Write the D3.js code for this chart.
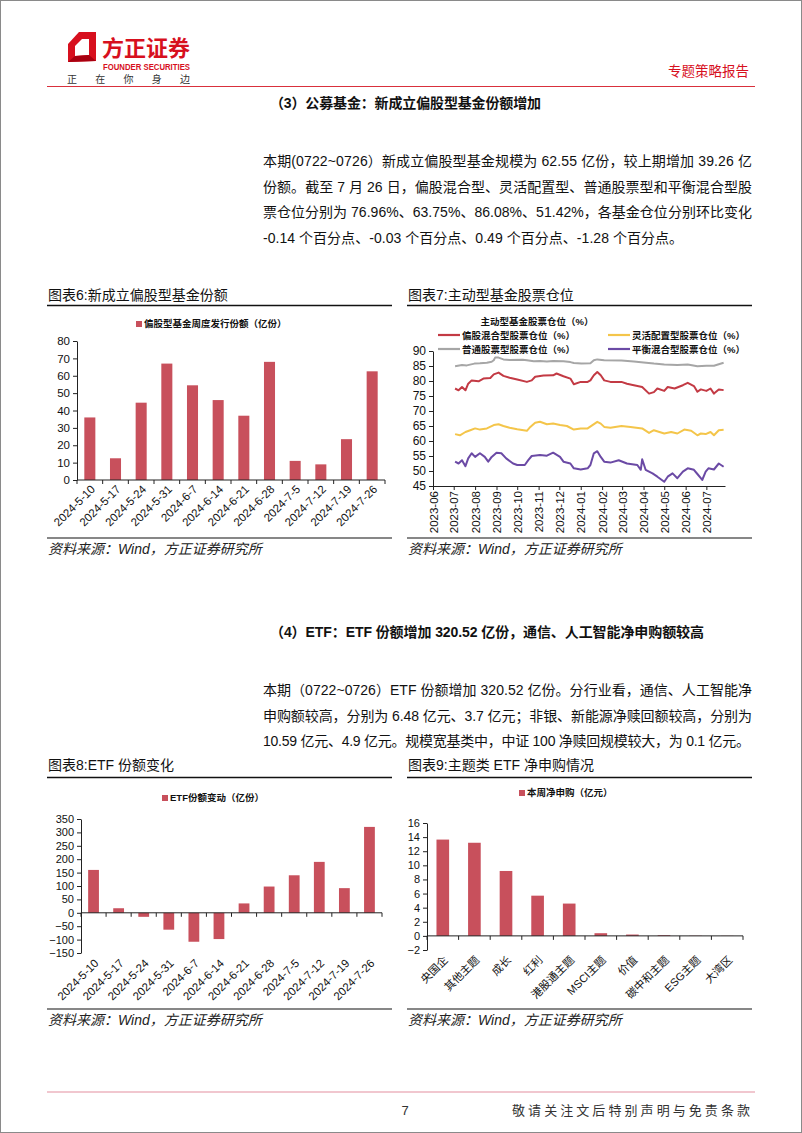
<!DOCTYPE html>
<html><head><meta charset="utf-8">
<script src="https://cdn.jsdelivr.net/npm/d3@7"></script>
<style>
html,body{margin:0;padding:0;background:#fff;}
svg{display:block;}
text{font-family:"Liberation Sans","Noto Sans CJK SC",sans-serif;}
</style></head><body>
<svg id="page" width="802" height="1133"></svg>
<script>
// ---------------- DATA ----------------
const weekCategories = ["2024-5-10","2024-5-17","2024-5-24","2024-5-31","2024-6-7","2024-6-14","2024-6-21","2024-6-28","2024-7-5","2024-7-12","2024-7-19","2024-7-26"];
const fundIssueValues = [36,12.5,44.5,67,54.5,46,37,68,11,9,23.5,62.55];
const fundIssueTicks = [0,10,20,30,40,50,60,70,80];

const etfShareValues = [160,17,-15,-63,-108,-98,35,98,140,190,92,320.52];
const etfShareTicks = [-150,-100,-50,0,50,100,150,200,250,300,350];

const themeCategories = ["央国企","其他主题","成长","红利","港股通主题","MSCI主题","价值","碳中和主题","ESG主题","大湾区"];
const themeValues = [13.65,13.2,9.2,5.7,4.58,0.38,0.19,0.1,0.03,0.02];
const themeTicks = [-2,0,2,4,6,8,10,12,14,16];

const positionTicks = [45,50,55,60,65,70,75,80,85,90];
const seriesNames = ["偏股混合型股票仓位（%）","灵活配置型股票仓位（%）","普通股票型股票仓位（%）","平衡混合型股票仓位（%）"];
const mixedEquity = [["2023-07-03",77.5],["2023-07-08",76.9],["2023-07-13",78.0],["2023-07-18",76.9],["2023-07-22",79.1],["2023-07-27",80.2],["2023-08-06",79.9],["2023-08-13",80.8],["2023-08-23",81.0],["2023-08-28",82.2],["2023-09-04",82.8],["2023-09-11",81.7],["2023-09-20",81.1],["2023-10-01",80.5],["2023-10-15",79.7],["2023-10-22",80.2],["2023-10-27",81.4],["2023-11-08",81.8],["2023-11-22",81.9],["2023-11-27",82.5],["2023-12-07",81.6],["2023-12-17",80.8],["2023-12-22",78.9],["2024-01-01",79.7],["2024-01-11",79.7],["2024-01-15",80.2],["2024-01-20",81.9],["2024-01-25",83.0],["2024-01-30",81.9],["2024-02-04",80.2],["2024-02-13",79.7],["2024-02-29",79.7],["2024-03-08",79.1],["2024-03-18",78.6],["2024-03-30",78.0],["2024-04-09",75.8],["2024-04-16",76.3],["2024-04-21",77.5],["2024-05-01",76.7],["2024-05-06",78.0],["2024-05-16",77.5],["2024-05-28",78.6],["2024-06-04",79.4],["2024-06-13",78.3],["2024-06-18",76.4],["2024-06-23",77.2],["2024-07-01",76.7],["2024-07-07",77.5],["2024-07-12",75.8],["2024-07-19",77.2],["2024-07-26",76.96]];
const flexibleAlloc = [["2023-07-03",62.3],["2023-07-10",61.9],["2023-07-18",63.0],["2023-07-25",63.6],["2023-08-01",64.2],["2023-08-08",63.8],["2023-08-18",64.2],["2023-08-28",65.3],["2023-09-04",65.6],["2023-09-11",65.0],["2023-09-20",64.4],["2023-10-01",63.9],["2023-10-15",63.4],["2023-10-20",64.7],["2023-10-27",66.1],["2023-11-03",66.4],["2023-11-13",65.6],["2023-11-22",65.8],["2023-12-02",65.3],["2023-12-12",65.0],["2023-12-22",63.8],["2024-01-01",64.2],["2024-01-11",64.2],["2024-01-18",65.3],["2024-01-25",66.4],["2024-01-30",65.8],["2024-02-04",64.7],["2024-02-13",64.4],["2024-02-29",65.0],["2024-03-13",64.7],["2024-03-30",64.2],["2024-04-09",62.7],["2024-04-16",63.6],["2024-05-01",62.5],["2024-05-11",63.0],["2024-05-20",62.5],["2024-05-30",63.8],["2024-06-09",63.4],["2024-06-18",61.9],["2024-06-23",62.5],["2024-06-30",62.3],["2024-07-07",63.0],["2024-07-12",61.9],["2024-07-19",63.6],["2024-07-26",63.75]];
const commonStock = [["2023-07-03",84.9],["2023-07-13",85.3],["2023-07-20",85.2],["2023-07-31",85.8],["2023-08-08",85.9],["2023-08-18",86.1],["2023-08-25",86.4],["2023-08-28",86.9],["2023-08-30",87.8],["2023-09-04",87.8],["2023-09-11",87.2],["2023-09-20",87.0],["2023-10-09",87.1],["2023-10-15",86.9],["2023-10-25",86.6],["2023-11-03",86.7],["2023-11-13",86.5],["2023-11-22",86.7],["2023-12-07",86.6],["2023-12-17",86.3],["2023-12-22",86.0],["2024-01-02",85.8],["2024-01-15",85.9],["2024-01-20",86.9],["2024-01-25",87.2],["2024-02-04",86.9],["2024-02-29",86.8],["2024-03-18",86.5],["2024-04-01",86.2],["2024-04-16",85.8],["2024-05-01",85.5],["2024-05-20",85.3],["2024-06-04",85.5],["2024-06-18",84.9],["2024-07-01",85.1],["2024-07-12",85.1],["2024-07-26",86.08]];
const balancedMixed = [["2023-07-03",53.1],["2023-07-08",52.5],["2023-07-13",53.6],["2023-07-18",51.6],["2023-07-22",54.2],["2023-07-27",55.9],["2023-08-01",54.7],["2023-08-08",55.9],["2023-08-15",54.7],["2023-08-20",53.1],["2023-08-25",54.7],["2023-09-01",56.1],["2023-09-08",55.9],["2023-09-15",54.2],["2023-09-25",52.5],["2023-10-01",52.0],["2023-10-12",52.0],["2023-10-17",53.6],["2023-10-22",55.0],["2023-11-03",55.3],["2023-11-13",55.1],["2023-11-22",56.1],["2023-12-02",54.7],["2023-12-07",53.1],["2023-12-17",52.5],["2023-12-22",50.9],["2024-01-01",50.5],["2024-01-11",50.9],["2024-01-15",52.0],["2024-01-20",55.9],["2024-01-25",56.6],["2024-01-30",54.7],["2024-02-04",53.1],["2024-02-13",52.8],["2024-02-25",53.6],["2024-03-08",52.5],["2024-03-23",52.0],["2024-03-28",50.4],["2024-03-30",53.9],["2024-04-04",50.4],["2024-04-14",49.2],["2024-04-21",48.1],["2024-05-01",46.4],["2024-05-06",48.1],["2024-05-13",49.2],["2024-05-20",47.6],["2024-05-28",49.8],["2024-06-04",50.9],["2024-06-13",50.4],["2024-06-18",49.0],["2024-06-23",47.6],["2024-06-25",47.0],["2024-06-30",49.8],["2024-07-04",50.9],["2024-07-12",50.5],["2024-07-19",52.5],["2024-07-26",51.42]];

const para1 = ["本期(0722~0726）新成立偏股型基金规模为 62.55 亿份，较上期增加 39.26 亿",
  "份额。截至 7 月 26 日，偏股混合型、灵活配置型、普通股票型和平衡混合型股",
  "票仓位分别为 76.96%、63.75%、86.08%、51.42%，各基金仓位分别环比变化",
  "-0.14 个百分点、-0.03 个百分点、0.49 个百分点、-1.28 个百分点。"];
const para2 = ["本期（0722~0726）ETF 份额增加 320.52 亿份。分行业看，通信、人工智能净",
  "申购额较高，分别为 6.48 亿元、3.7 亿元；非银、新能源净赎回额较高，分别为",
  "10.59 亿元、4.9 亿元。规模宽基类中，中证 100 净赎回规模较大，为 0.1 亿元。"];

// ---------------- DRAW ----------------
const svg = d3.select("#page");
const RED = "#d7101e";
const BAR = "#c8505c";
const CJK = '"Liberation Sans","Noto Sans CJK SC",sans-serif';

svg.append("rect").attr("x",0.5).attr("y",0.5).attr("width",801).attr("height",1132)
  .attr("fill","#fff").attr("stroke","#8a8a8a");

// header
svg.append("path").attr("d","M68,44 L79,32 L96,32 L96,61 L68,62 Z").attr("fill",RED);
svg.append("path").attr("d","M75,46 L82,39 L89,39 L89,55 L75,56 Z").attr("fill","#fff");
svg.append("path").attr("d","M68,62 L75,56 L89,55 L96,61 Z").attr("fill","#a80010");
svg.append("text").attr("x",102).attr("y",56).attr("font-size",22).attr("font-weight","bold")
  .attr("fill",RED).attr("textLength",88).text("方正证券");
svg.append("text").attr("x",103).attr("y",70).attr("font-size",8.5).attr("font-weight","bold")
  .attr("fill",RED).attr("textLength",87).attr("lengthAdjust","spacingAndGlyphs").text("FOUNDER SECURITIES");
svg.append("text").attr("x",67).attr("y",83).attr("font-size",10).attr("fill","#333")
  .attr("textLength",123).text("正在你身边");
svg.append("text").attr("x",749).attr("y",76).attr("text-anchor","end").attr("font-size",13.5)
  .attr("fill",RED).text("专题策略报告");
svg.append("line").attr("x1",47).attr("x2",755).attr("y1",86.5).attr("y2",86.5)
  .attr("stroke","#d9303c").attr("stroke-width",1.2);

// headings and paragraphs
function heading(txt, y, w){
  svg.append("text").attr("x",270).attr("y",y).attr("font-size",14).attr("font-weight","bold")
    .attr("fill","#111").attr("textLength",w).text(txt);
}
heading("（3）公募基金：新成立偏股型基金份额增加",108,271);
heading("（4）ETF：ETF 份额增加 320.52 亿份，通信、人工智能净申购额较高",637,434);
function para(lines, y0, lastW){
  lines.forEach((t,i)=>{
    const el = svg.append("text").attr("x",263).attr("y",y0+i*25.5).attr("font-size",14)
      .attr("fill","#111").text(t);
    el.attr("textLength", i===lines.length-1 ? lastW : 489).attr("lengthAdjust","spacing");
  });
}
para(para1,166,420);
para(para2,695,487);

// chart frames
function frame(x0, x1, title, titleY, lineY, srcLineY, srcY){
  svg.append("text").attr("x",x0+1).attr("y",titleY).attr("font-size",14).attr("fill","#111").text(title);
  svg.append("line").attr("x1",x0).attr("x2",x1).attr("y1",lineY).attr("y2",lineY).attr("stroke","#111").attr("stroke-width",1.5);
  svg.append("line").attr("x1",x0).attr("x2",x1).attr("y1",srcLineY).attr("y2",srcLineY).attr("stroke","#111").attr("stroke-width",1.2);
  svg.append("text").attr("x",x0+1).attr("y",srcY).attr("font-size",14).attr("font-style","italic")
    .attr("fill","#222").text("资料来源：Wind，方正证券研究所");
}
frame(47,392,"图表6:新成立偏股型基金份额",300,305.5,538,554);
frame(407,752,"图表7:主动型基金股票仓位",300,305.5,538,554);
frame(47,392,"图表8:ETF 份额变化",770,777.5,1009,1025);
frame(407,752,"图表9:主题类 ETF 净申购情况",770,777.5,1009,1025);

// bar chart
function barChart(o){
  const g = svg.append("g");
  const xb = d3.scaleBand().domain(o.categories).range([o.left,o.right]);
  const y = d3.scaleLinear().domain([o.ticks[0], o.ticks[o.ticks.length-1]]).range([o.bottom,o.top]);
  const bw = xb.bandwidth()*o.barFrac;
  g.selectAll("rect.bar").data(o.categories).join("rect")
    .attr("x",c=>xb(c)+(xb.bandwidth()-bw)/2)
    .attr("width",bw)
    .attr("y",(c,i)=>Math.min(y(o.values[i]),y(0)))
    .attr("height",(c,i)=>Math.abs(y(o.values[i])-y(0)))
    .attr("fill",BAR);
  // y axis
  const ya = g.append("g").attr("transform",`translate(${o.left},0)`)
    .call(d3.axisLeft(y).tickValues(o.ticks).tickSize(4).tickSizeOuter(0).tickPadding(3));
  ya.select(".domain").attr("stroke","#222");
  ya.selectAll(".tick line").attr("stroke","#222");
  ya.selectAll("text").attr("font-size",o.tickFont).attr("fill","#111").attr("font-family",CJK);
  // x axis at zero
  const xa = g.append("g").attr("transform",`translate(0,${y(0)})`);
  xa.append("line").attr("x1",o.left).attr("x2",o.right).attr("stroke","#222");
  const bounds = o.categories.map(c=>xb(c)).concat([o.right]);
  xa.selectAll("line.t").data(bounds).join("line").attr("class","t")
    .attr("x1",d=>d).attr("x2",d=>d).attr("y1",0).attr("y2",4).attr("stroke","#222");
  // labels
  g.selectAll("text.lab").data(o.categories).join("text").attr("class","lab")
    .attr("transform",c=>`translate(${xb(c)+xb.bandwidth()/2+o.labDx},${o.bottom+o.labDy}) rotate(-45)`)
    .attr("text-anchor","end").attr("dy","0.35em")
    .attr("font-size",o.labFont).attr("fill","#111").text(c=>c);
  // legend
  g.append("rect").attr("x",o.legX).attr("y",o.legY-6).attr("width",6).attr("height",6).attr("fill",BAR);
  g.append("text").attr("x",o.legX+8).attr("y",o.legY).attr("font-size",9.5).attr("font-weight","bold")
    .attr("fill","#111").text(o.legend);
}
barChart({categories:weekCategories, values:fundIssueValues, ticks:fundIssueTicks,
  left:77,right:385,top:341,bottom:480,barFrac:0.43,tickFont:11.5,labFont:11.5,labDx:3,labDy:7,
  legX:136,legY:327,legend:"偏股型基金周度发行份额（亿份）"});
barChart({categories:weekCategories, values:etfShareValues, ticks:etfShareTicks,
  left:81,right:382,top:819,bottom:953,barFrac:0.43,tickFont:11,labFont:11.5,labDx:3,labDy:8,
  legX:162,legY:801,legend:"ETF份额变动（亿份）"});
barChart({categories:themeCategories, values:themeValues, ticks:themeTicks,
  left:427,right:743,top:823,bottom:950,barFrac:0.4,tickFont:11,labFont:11,labDx:3,labDy:8,
  legX:519,legY:796,legend:"本周净申购（亿元）"});

// line chart
(function(){
  const g = svg.append("g");
  const parse = d3.timeParse("%Y-%m-%d");
  const x = d3.scaleTime().domain([parse("2023-06-01"),parse("2024-07-28")]).range([433,725]);
  const y = d3.scaleLinear().domain([45,90]).range([486,351]);
  const ya = g.append("g").attr("transform","translate(433,0)")
    .call(d3.axisLeft(y).tickValues(positionTicks).tickSize(4).tickSizeOuter(0).tickPadding(3));
  ya.select(".domain").attr("stroke","#222");
  ya.selectAll(".tick line").attr("stroke","#222");
  ya.selectAll("text").attr("font-size",12).attr("fill","#111").attr("font-family",CJK);
  const xa = g.append("g").attr("transform","translate(0,486)")
    .call(d3.axisBottom(x).ticks(d3.timeMonth.every(1)).tickFormat(d3.timeFormat("%Y-%m")).tickSize(4).tickSizeOuter(0).tickPadding(4));
  xa.select(".domain").attr("stroke","#222");
  xa.selectAll(".tick line").attr("stroke","#222");
  xa.selectAll("text").attr("font-size",11.5).attr("fill","#111").attr("font-family",CJK)
    .attr("text-anchor","end").attr("transform","rotate(-90)").attr("x",-5).attr("y",0).attr("dy","0.35em");
  const colors = ["#c33a44","#f4c54a","#a6a6a6","#6b4aa5"];
  const all = [mixedEquity, flexibleAlloc, commonStock, balancedMixed];
  const line = d3.line().x(d=>x(parse(d[0]))).y(d=>y(d[1]));
  [2,0,1,3].forEach(i=>{
    g.append("path").datum(all[i]).attr("d",line).attr("fill","none")
      .attr("stroke",colors[i]).attr("stroke-width",2).attr("stroke-linejoin","round");
  });
  g.append("text").attr("x",537).attr("y",325).attr("text-anchor","middle").attr("font-size",9.5)
    .attr("font-weight","bold").attr("fill","#111").text("主动型基金股票仓位（%）");
  const pos = [[438,335],[608,335],[438,349],[608,349]];
  seriesNames.forEach((n,i)=>{
    g.append("line").attr("x1",pos[i][0]).attr("x2",pos[i][0]+22).attr("y1",pos[i][1]).attr("y2",pos[i][1])
      .attr("stroke",colors[i]).attr("stroke-width",2.2);
    g.append("text").attr("x",pos[i][0]+24).attr("y",pos[i][1]+3.5).attr("font-size",9.5).attr("font-weight","bold")
      .attr("fill","#111").text(n);
  });
})();

// footer
svg.append("line").attr("x1",47).attr("x2",755).attr("y1",1092).attr("y2",1092).attr("stroke","#e48fa0").attr("stroke-width",1.2);
svg.append("text").attr("x",405).attr("y",1115).attr("text-anchor","middle").attr("font-size",13).attr("fill","#333").text("7");
svg.append("text").attr("x",512).attr("y",1115).attr("font-size",13).attr("fill","#333")
  .attr("textLength",238).attr("lengthAdjust","spacing").text("敬请关注文后特别声明与免责条款");
</script>
</body></html>
